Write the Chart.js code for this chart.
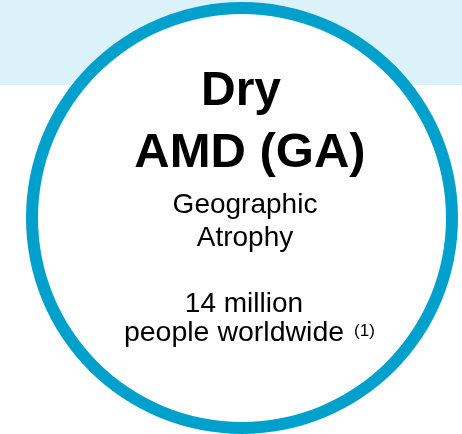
<!DOCTYPE html>
<html>
<head>
<meta charset="utf-8">
<script src="https://cdn.jsdelivr.net/npm/chart.js@4"></script>
<style>
  html, body { margin: 0; padding: 0; background: #ffffff; }
  #wrap { width: 462px; height: 434px; position: relative; }
</style>
</head>
<body>
<div id="wrap"><canvas id="gaChart" width="462" height="434"></canvas></div>
<script>
// ─── data ─────────────────────────────
const categories  = ["Dry AMD (GA)"];
const patientsMil = [14];
const titleLines  = ["Dry", "AMD (GA)"];
const subLines    = ["Geographic", "Atrophy"];
const countLines  = ["14 million", "people worldwide"];
const footnote    = "(1)";

const ringColor = "#00a0cd";
const bandColor = "#dcf2fa";

// light blue band behind the ring, white inside the ring
const bandPlugin = {
  id: "band",
  beforeDatasetsDraw(chart) {
    const ctx = chart.ctx;
    const arc = chart.getDatasetMeta(0).data[0];
    ctx.save();
    ctx.fillStyle = bandColor;
    ctx.fillRect(0, 0, chart.width, 85);
    if (arc) {
      ctx.fillStyle = "#ffffff";
      ctx.beginPath();
      ctx.arc(arc.x, arc.y, arc.outerRadius - 2, 0, Math.PI * 2);
      ctx.fill();
    }
    ctx.restore();
  }
};

// text inside the circle
const centerText = {
  id: "centerText",
  afterDraw(chart) {
    const ctx = chart.ctx;
    ctx.save();
    ctx.fillStyle = "#000000";
    ctx.textBaseline = "alphabetic";
    ctx.textAlign = "center";

    ctx.font = "bold 48px 'Liberation Sans', Arial, sans-serif";
    ctx.fillText(titleLines[0], 241, 105);
    ctx.font = "bold 49px 'Liberation Sans', Arial, sans-serif";
    ctx.fillText(titleLines[1], 250, 167);

    ctx.font = "28px 'Liberation Sans', Arial, sans-serif";
    ctx.fillText(subLines[0], 245, 213);
    ctx.fillText(subLines[1], 245, 246);
    ctx.fillText(countLines[0], 244, 312);

    // last line + superscript note
    ctx.textAlign = "left";
    ctx.font = "28.5px 'Liberation Sans', Arial, sans-serif";
    const w = ctx.measureText(countLines[1]).width;
    const x0 = 234 - w / 2;
    ctx.fillText(countLines[1], x0, 341);
    ctx.font = "17px 'Liberation Sans', Arial, sans-serif";
    ctx.fillText(footnote, x0 + w + 10, 336);
    ctx.restore();
  }
};

new Chart(document.getElementById("gaChart"), {
  type: "doughnut",
  data: {
    labels: categories,
    datasets: [{
      data: patientsMil,
      backgroundColor: ringColor,
      borderWidth: 0,
      hoverOffset: 0
    }]
  },
  options: {
    responsive: false,
    animation: false,
    cutout: 204,
    layout: { padding: { left: 26, right: 4, top: 2, bottom: 0 } },
    plugins: {
      legend: { display: false },
      tooltip: { enabled: false }
    }
  },
  plugins: [bandPlugin, centerText]
});
</script>
</body>
</html>
